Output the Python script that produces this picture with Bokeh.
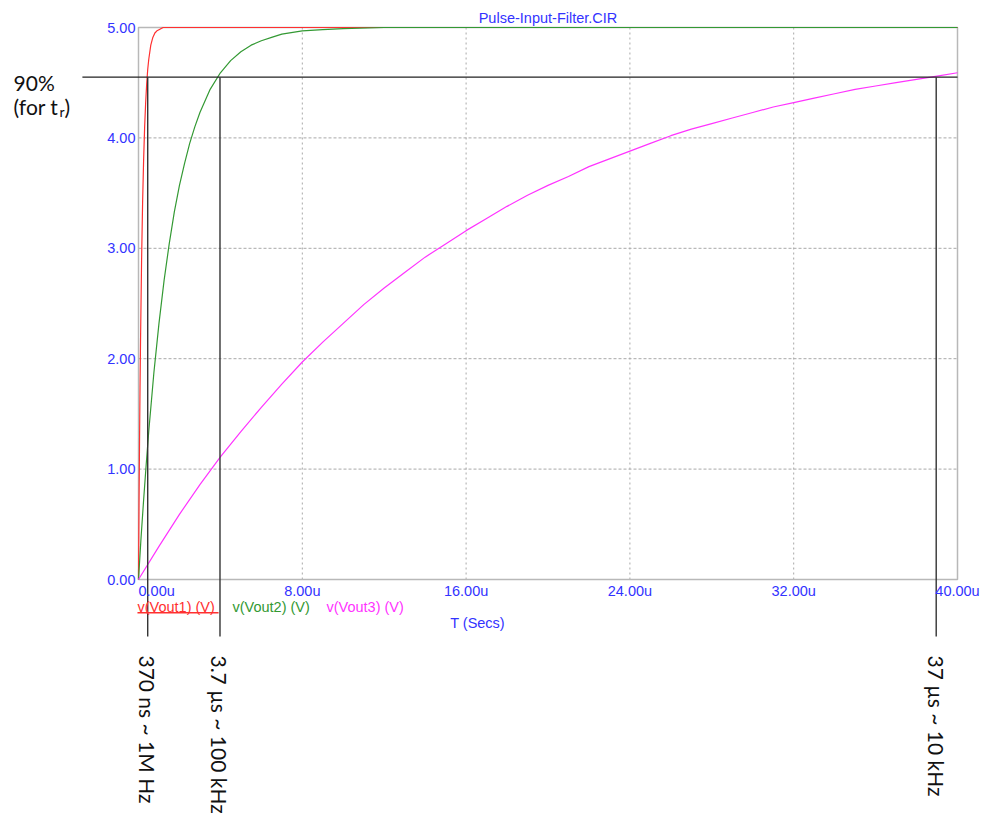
import math
from bokeh.plotting import figure
from bokeh.models import Label, Range1d, FixedTicker
from bokeh.embed import file_html
from bokeh.resources import INLINE

# ---- data ----
t1 = [0, 0.025, 0.05, 0.075, 0.1, 0.15, 0.2, 0.25, 0.3, 0.35, 0.4, 0.45, 0.5, 0.6, 0.7,
      0.8, 0.9, 1.0, 1.2, 40]
v1 = [0, 0.67, 1.24, 1.74, 2.17, 2.88, 3.41, 3.80, 4.10, 4.32, 4.49, 4.62, 4.71, 4.84, 4.91,
      4.95, 4.97, 4.98, 5.00, 5.00]

t2 = [0, 0.125, 0.25, 0.375, 0.5, 0.75, 1, 1.25, 1.5, 1.75, 2, 2.25, 2.5, 2.75, 3, 3.5, 4,
      4.5, 5, 5.5, 6, 6.5, 7, 8, 9, 10, 12, 14, 40]
v2 = [0, 0.38, 0.72, 1.04, 1.34, 1.87, 2.32, 2.71, 3.04, 3.33, 3.57, 3.77, 3.95, 4.10, 4.23,
      4.44, 4.59, 4.70, 4.78, 4.84, 4.88, 4.91, 4.94, 4.97, 4.98, 4.99, 5.00, 5.00, 5.00]

t3 = [0, 1, 2, 3, 4, 5, 6, 7, 8, 9, 10, 11, 12, 13, 14, 15, 16, 17, 18, 19, 20, 21, 22, 23,
      24, 25, 26, 27, 28, 29, 30, 31, 32, 33, 34, 35, 36, 37, 38, 39, 40]
v3 = [0, 0.30, 0.59, 0.86, 1.11, 1.34, 1.56, 1.77, 1.97, 2.15, 2.32, 2.49, 2.64, 2.78, 2.92,
      3.04, 3.16, 3.27, 3.38, 3.48, 3.57, 3.65, 3.74, 3.81, 3.88, 3.95, 4.02, 4.08, 4.13,
      4.18, 4.23, 4.28, 4.32, 4.36, 4.40, 4.44, 4.47, 4.50, 4.53, 4.56, 4.59]

series_names = ["v(Vout1) (V)", "v(Vout2) (V)", "v(Vout3) (V)"]
series_colors = ["#ff3030", "#339933", "#ff33ff"]

x_ticks = [0, 8, 16, 24, 32, 40]
x_tick_labels = ["0.00u", "8.00u", "16.00u", "24.00u", "32.00u", "40.00u"]
y_ticks = [0, 1, 2, 3, 4, 5]
y_tick_labels = ["0.00", "1.00", "2.00", "3.00", "4.00", "5.00"]

level_90 = 4.55
rise_marks = [0.45, 3.98, 38.96]
rise_texts = ["370 ns ~ 1M Hz", "3.7 µs ~ 100 kHz", "37 µs ~ 10 kHz"]

title_text = "Pulse-Input-Filter.CIR"
x_axis_text = "T (Secs)"

BLUE = "#3333ff"
FONT = "Liberation Sans"
FS = "14.5px"
ANN_FONT = "Lato"

W, H = 984, 814
PX0, PY0 = 138.0, 579.0        # pixel position of (0, 0)
SX, SY = 819.0 / 40, 552.0 / 5  # pixels per data unit

p = figure(width=W, height=H, output_backend="svg", toolbar_location=None,
           x_range=Range1d(-PX0 / SX, (W - PX0) / SX),
           y_range=Range1d((PY0 - H) / SY, PY0 / SY),
           min_border=0)
p.outline_line_color = None
p.grid.visible = False

# axes drawn at the plot-area edges
p.xaxis.fixed_location = 0
p.yaxis.fixed_location = 0
p.xaxis.bounds = (0, 40)
p.yaxis.bounds = (0, 5)
p.xaxis.ticker = FixedTicker(ticks=x_ticks)
p.yaxis.ticker = FixedTicker(ticks=y_ticks)
xo = dict(zip(x_ticks, x_tick_labels))
xo[0] = "\u00a0" * 9 + x_tick_labels[0]
p.xaxis.major_label_overrides = xo
p.yaxis.major_label_overrides = dict(zip(y_ticks, y_tick_labels))
for ax in (p.xaxis[0], p.yaxis[0]):
    ax.axis_line_color = None
    ax.major_tick_line_color = None
    ax.minor_tick_line_color = None
    ax.major_tick_out = 0
    ax.major_tick_in = 0
    ax.minor_tick_out = 0
    ax.minor_tick_in = 0
    ax.major_label_text_color = BLUE
    ax.major_label_text_font = FONT
    ax.major_label_text_font_size = FS
    ax.major_label_standoff = 3

# grid inside the plot area
gx = x_ticks[1:-1]
gy = y_ticks[1:-1]
p.segment(x0=gx, y0=[0] * len(gx), x1=gx, y1=[5] * len(gx),
          line_color="#a8a8a8", line_width=1, line_dash="2 3")
p.segment(x0=[0] * len(gy), y0=gy, x1=[40] * len(gy), y1=gy,
          line_color="#a8a8a8", line_width=1, line_dash="3 2")

# plot-area border
p.quad(left=[0], right=[40], bottom=[0], top=[5], fill_color=None,
       line_color="#b8b8b8", line_width=1.5)

# curves
for (tx, vy), c in zip([(t1, v1), (t2, v2), (t3, v3)], series_colors):
    p.line(tx, vy, line_color=c, line_width=1.2)

# 90% line and rise-time markers
p.segment(x0=[-2.74], y0=[level_90], x1=[40], y1=[level_90],
          line_color="#222222", line_width=1.2)
p.segment(x0=rise_marks, y0=[level_90] * 3, x1=rise_marks, y1=[-0.516] * 3,
          line_color="#333333", line_width=1.4)
for xm, txt in zip(rise_marks, rise_texts):
    p.add_layout(Label(x=xm, y=-0.688, text=txt, angle=-math.pi / 2,
                       text_align="left", text_baseline="middle",
                       text_font=ANN_FONT, text_font_size="21px", text_color="#111111"))

# left annotation
p.add_layout(Label(x=-6.1, y=4.50, text="90%", text_font=ANN_FONT, text_font_size="21px",
                   text_color="#111111", text_baseline="middle"))
p.add_layout(Label(x=-6.1, y=4.285, text="(for t", text_font=ANN_FONT, text_font_size="21px",
                   text_color="#111111", text_baseline="middle"))
p.add_layout(Label(x=-3.86, y=4.239, text="r", text_font=ANN_FONT, text_font_size="14px",
                   text_color="#111111", text_baseline="middle"))
p.add_layout(Label(x=-3.62, y=4.285, text=")", text_font=ANN_FONT, text_font_size="21px",
                   text_color="#111111", text_baseline="middle"))

# series labels (legend line)
legend_x = [-0.05, 4.59, 9.18]
for xl, name, c in zip(legend_x, series_names, series_colors):
    p.add_layout(Label(x=xl, y=-0.251, text=name, text_font=FONT, text_font_size=FS,
                       text_color=c, text_baseline="middle"))
p.segment(x0=[-0.05], y0=[-0.301], x1=[3.91], y1=[-0.301],
          line_color=series_colors[0], line_width=1.3)

# axis caption and title
p.add_layout(Label(x=16.56, y=-0.396, text=x_axis_text, text_font=FONT, text_font_size=FS,
                   text_color=BLUE, text_align="center", text_baseline="middle"))
p.add_layout(Label(x=20.0, y=5.082, text=title_text, text_font=FONT, text_font_size=FS,
                   text_color=BLUE, text_align="center", text_baseline="middle"))

open("out.html", "w").write(file_html(p, INLINE))
